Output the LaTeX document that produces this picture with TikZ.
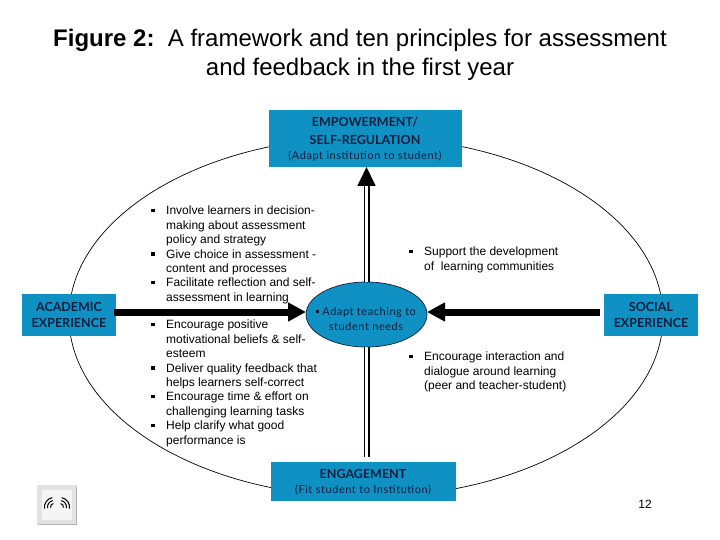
\documentclass[tikz,border=0pt]{standalone}
\usepackage{fontspec}
\setmainfont{Liberation Sans}
\newfontfamily\boxfont{Lato}
\newfontfamily\subfont[LetterSpace=5]{Lato}
\usetikzlibrary{arrows.meta,calc,shapes.geometric}
\definecolor{boxblue}{HTML}{0F92C3}
\definecolor{boxink}{HTML}{0A1F3F}
\definecolor{logogray}{HTML}{E2E2E2}
\tikzset{
	frame/.style={fill=boxblue, inner sep=0pt, outer sep=0pt, text=boxink, align=center},
	boxhead/.style={text=boxink, inner sep=0pt, align=center, font=\boxfont\fontsize{12.5}{18}\selectfont\bfseries},
	boxsub/.style={text=boxink, inner sep=0pt, align=center, font=\subfont\fontsize{11}{15}\selectfont},
	points/.style={anchor=north west, inner sep=0pt, align=left, font=\fontsize{12}{14.4}\selectfont},
	bigarrow/.style={line width=7pt, -{Triangle[length=18pt,width=18pt]}},
	rail/.style={line width=1.8pt, double=white, double distance=2.4pt},
}
\newcommand{\pb}{\makebox[15pt][l]{\rule[2.5pt]{3.5pt}{3.5pt}}}
\newcommand{\pc}{\hspace*{15pt}}
\begin{document}
\begin{tikzpicture}[x=1pt,y=-1pt]
	\useasboundingbox (0,0) rectangle (720,540);
	\node[inner sep=0pt, align=center, font=\fontsize{24}{29}\selectfont] (title) at (360,54.5)
	  {\textbf{Figure 2:}\ \ A framework and ten principles for assessment\\and feedback in the first year};
	% outer ring
	\draw[line width=.7pt, fill=white] (366,317) ellipse (297 and 180);
	% four boxes
	\node[frame, minimum width=193pt, minimum height=57pt] (empower) at (365.5,138.5) {};
	\node[boxhead] (empowertxt) at (365,131) {EMPOWERMENT/\\SELF-REGULATION};
	\node[boxsub] (empowersub) at (365,156) {(Adapt institution to student)};
	\node[frame, minimum width=185pt, minimum height=39pt] (engage) at (363.5,481.5) {};
	\node[boxhead] (engagetxt) at (363,474) {ENGAGEMENT};
	\node[boxsub] (engagesub) at (363,490) {(Fit student to Institution)};
	\node[frame, minimum width=94pt, minimum height=42pt, font=\boxfont\fontsize{12.5}{15.5}\selectfont\bfseries] (academic) at (69,315) {ACADEMIC\\EXPERIENCE};
	\node[frame, minimum width=94pt, minimum height=42pt, font=\boxfont\fontsize{12.5}{15.5}\selectfont\bfseries] (social) at (651,315) {SOCIAL\\EXPERIENCE};
	% centre
	\node[ellipse, draw=boxink, fill=boxblue, line width=.7pt, inner sep=0pt, outer sep=0pt, minimum width=121pt, minimum height=65pt] (adapt) at (366.5,314.5) {};
	\node[boxsub] (adapttxt) at (366,318.5) {\rule[2.5pt]{3pt}{3pt}\ Adapt teaching to\\student needs};
	% connectors
	\draw[rail, -{Triangle[length=19pt,width=18pt]}] (adapt.north) -- (adapt.north |- empower.south);
	\draw[rail, shorten >=5pt] (adapt.south) -- (adapt.south |- engage.north);
	\draw[bigarrow] ($(academic.east)+(-2,-3)$) -- ($(adapt.west)+(0,-2.5)$);
	\draw[bigarrow] ($(social.west)+(-4,-3)$) -- ($(adapt.east)+(0,-2.5)$);
	% text blocks
	\node[points] (leftup) at (151,206) {\pb Involve learners in decision-\\\pc making about assessment\\\pc policy and strategy\\\pb Give choice in assessment -\\\pc content and processes\\\pb Facilitate reflection and self-\\\pc assessment in learning};
	\node[points] (leftdown) at (151,320) {\pb Encourage positive\\\pc motivational beliefs \& self-\\\pc esteem\\\pb Deliver quality feedback that\\\pc helps learners self-correct\\\pb Encourage time \& effort on\\\pc challenging learning tasks\\\pb Help clarify what good\\\pc performance is};
	\node[points] (rightup) at (409,247) {\pb Support the development\\\pc of\ \ learning communities};
	\node[points] (rightdown) at (409,352) {\pb Encourage interaction and\\\pc dialogue around learning\\\pc (peer and teacher-student)};
	% page number
	\node[font=\fontsize{12}{14}\selectfont, inner sep=0pt] (pagenum) at (645,504) {12};
	% logo
	\fill[gray!60] (38,486) rectangle (77,525);
	\node[fill=logogray, inner sep=0pt, minimum size=38.5pt] (logo) at (56.5,504.5) {};
	\fill[white!92!gray] (42,490) rectangle (72,520);
	\foreach \r in {3.5,6.5,9.5} {
	  \draw[line width=1pt] (54,507)++(-100:\r) arc (-100:-190:\r);
	  \draw[line width=1pt] (60,507)++(-80:\r) arc (-80:10:\r);
	}
\end{tikzpicture}
\end{document}
